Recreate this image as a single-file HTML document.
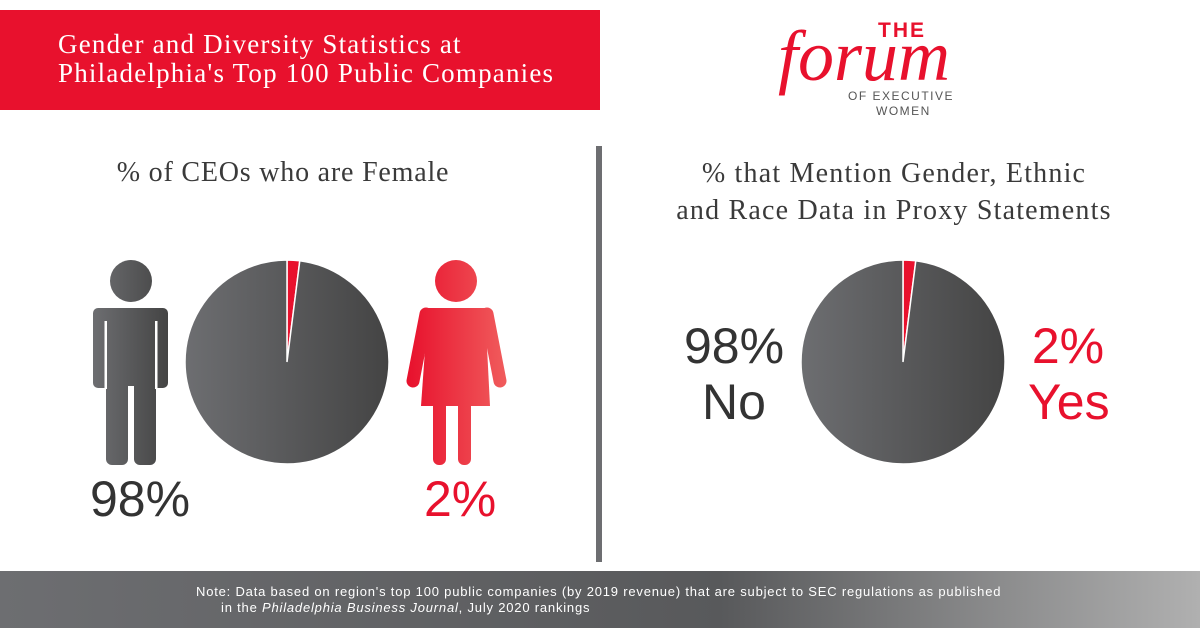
<!DOCTYPE html>
<html><head><meta charset="utf-8"><style>
body{margin:0;width:1200px;height:628px;background:#fff;position:relative;overflow:hidden;font-family:"Liberation Sans",sans-serif}
.abs{position:absolute}
.serif{font-family:"Liberation Serif",serif;color:#3a3a3a}
</style></head><body>
<div class="abs" style="left:0;top:10px;width:600px;height:100px;background:#e8112d"></div>
<div class="abs serif" style="left:58px;top:30px;font-size:27px;line-height:29px;color:#fff;letter-spacing:1.2px">Gender and Diversity Statistics at<br>Philadelphia's Top 100 Public Companies</div>
<div class="abs" style="left:770px;top:10px;width:220px;height:110px">
 <div class="abs" style="left:108px;top:9px;font-size:21px;font-weight:bold;color:#e8112d;letter-spacing:2px">THE</div>
 <div class="abs" style="left:8px;top:10px;font-family:'Liberation Serif',serif;font-style:italic;font-size:72px;color:#e8112d;line-height:72px">forum</div>
 <div class="abs" style="left:78px;top:79px;font-size:12px;color:#555;letter-spacing:1.5px">OF EXECUTIVE</div>
 <div class="abs" style="left:106px;top:94px;font-size:12px;color:#555;letter-spacing:1.5px">WOMEN</div>
</div>
<div class="abs serif" style="left:0;width:566px;text-align:center;top:157px;font-size:28px;letter-spacing:0.8px">% of CEOs who are Female</div>
<div class="abs serif" style="left:594px;width:600px;text-align:center;top:155px;font-size:28px;line-height:37px;letter-spacing:1.2px">% that Mention Gender, Ethnic<br>and Race Data in Proxy Statements</div>
<div class="abs" style="left:596px;top:146px;width:6px;height:416px;background:#6d6e71"></div>
<svg class="abs" style="left:0;top:0" width="1200" height="628">
<defs>
<linearGradient id="g" x1="0" x2="1"><stop offset="0" stop-color="#6d6e71"/><stop offset="1" stop-color="#444"/></linearGradient>
<linearGradient id="gm" gradientUnits="userSpaceOnUse" x1="93" x2="168"><stop offset="0" stop-color="#6d6e71"/><stop offset="1" stop-color="#444"/></linearGradient>
<linearGradient id="r" gradientUnits="userSpaceOnUse" x1="408" x2="504"><stop offset="0" stop-color="#e8112d"/><stop offset="1" stop-color="#f05a5b"/></linearGradient>
</defs>
<g fill="url(#gm)">
 <circle cx="131" cy="281" r="21"/>
 <rect x="93" y="308" width="75" height="80" rx="5"/>
 <rect x="106" y="310" width="50" height="100"/>
 <rect x="106" y="380" width="22" height="85" rx="6"/>
 <rect x="134" y="380" width="22" height="85" rx="6"/>
 <rect x="104.5" y="321" width="2.5" height="68" fill="#fff"/>
 <rect x="155" y="321" width="2.5" height="68" fill="#fff"/>
 <rect x="128" y="386" width="6" height="80" fill="#fff"/>
</g>
<g fill="url(#r)">
 <circle cx="456" cy="281" r="21"/>
 <polygon points="428,308 485,308 490,406 421,406"/>
 <line x1="426" y1="314" x2="413" y2="381" stroke="url(#r)" stroke-width="13" stroke-linecap="round"/>
 <line x1="487" y1="314" x2="500" y2="381" stroke="url(#r)" stroke-width="13" stroke-linecap="round"/>
 <rect x="433" y="400" width="13" height="65" rx="6"/>
 <rect x="458" y="400" width="13" height="65" rx="6"/>
</g>
<g id="pies"></g>
</svg>
<div class="abs" style="left:90px;top:470px;font-size:50px;color:#333">98%</div>
<div class="abs" style="left:424px;top:470px;font-size:50px;color:#e8112d">2%</div>
<div class="abs" style="left:684px;top:318px;font-size:50px;line-height:56px;color:#333;text-align:center;width:100px">98%<br>No</div>
<div class="abs" style="left:1028px;top:318px;font-size:50px;line-height:56px;color:#e8112d;text-align:center;width:80px">2%<br>Yes</div>
<div class="abs" style="left:0;top:571px;width:1200px;height:57px;background:linear-gradient(90deg,#6d6e71,#58595b 60%,#b0b0b0)"></div>
<div class="abs" style="left:196px;top:584px;font-size:13px;line-height:16px;color:#fff;letter-spacing:0.8px">Note: Data based on region's top 100 public companies (by 2019 revenue) that are subject to SEC regulations as published</div>
<div class="abs" style="left:221px;top:600px;font-size:13px;line-height:16px;color:#fff;letter-spacing:0.8px">in the <i>Philadelphia Business Journal</i>, July 2020 rankings</div>
<script>
const pieNames=['ceo-pie','proxy-pie'];
const pieCenters=[[287,362],[903,362]];
const pieValues=[[2,98],[2,98]];
const sliceLabels=['yes','no'];
const svg=document.getElementById('pies');const NS='http://www.w3.org/2000/svg';
pieValues.forEach((vals,i)=>{
 const [cx,cy]=pieCenters[i];const r=102;const tot=vals.reduce((a,b)=>a+b,0);
 let a0=0;
 vals.forEach((v,j)=>{
  const a1=a0+v/tot*2*Math.PI;
  const p=document.createElementNS(NS,'path');
  const x0=cx+r*Math.sin(a0),y0=cy-r*Math.cos(a0),x1=cx+r*Math.sin(a1),y1=cy-r*Math.cos(a1);
  p.setAttribute('d',`M${cx},${cy}L${x0},${y0}A${r},${r} 0 ${a1-a0>Math.PI?1:0} 1 ${x1},${y1}Z`);
  p.setAttribute('fill',j===0?'#e8112d':'url(#g)');
  p.setAttribute('stroke','#fff');p.setAttribute('stroke-width','1.5');
  
  
  svg.appendChild(p);a0=a1;
 });
});
</script>
</body></html>
